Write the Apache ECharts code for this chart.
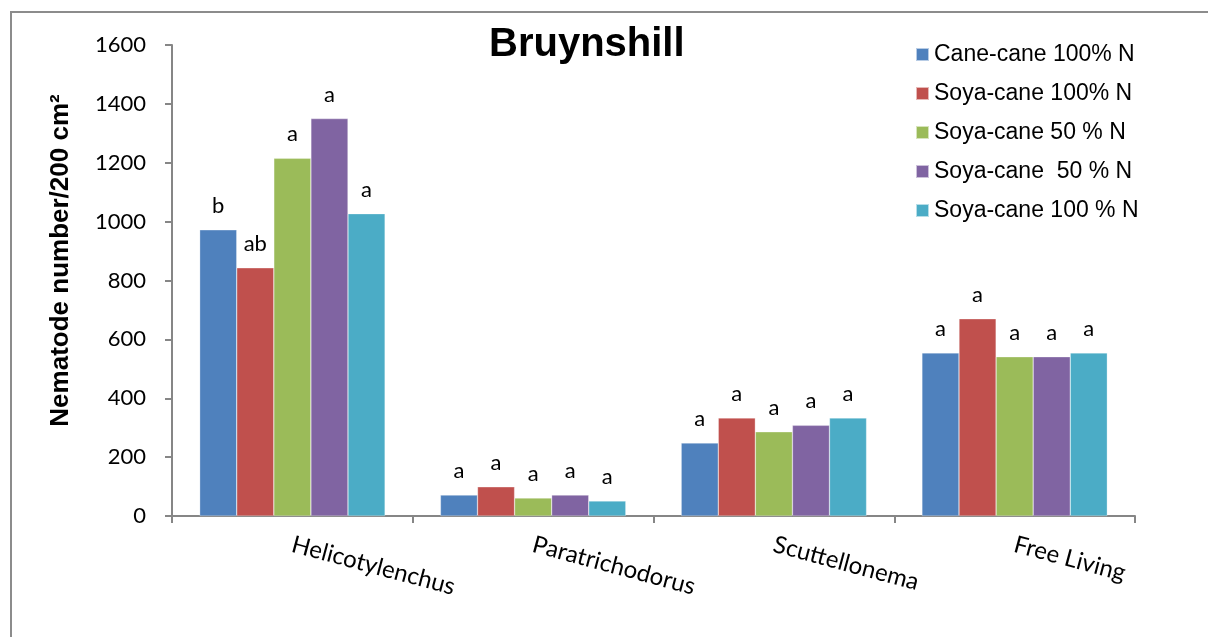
<!DOCTYPE html>
<html>
<head>
<meta charset="utf-8">
<script src="https://cdn.jsdelivr.net/npm/echarts@6/dist/echarts.min.js"></script>
<style>
  html, body { margin: 0; padding: 0; background: #fff; }
  #main { width: 1208px; height: 637px; }
</style>
</head>
<body>
<div id="main"></div>
<script>
// nematode counts per genus, Bruynshill site
var categories = ['Helicotylenchus', 'Paratrichodorus', 'Scuttellonema', 'Free Living'];
var seriesNames = ['Cane-cane 100% N', 'Soya-cane 100% N', 'Soya-cane 50 % N', 'Soya-cane  50 % N', 'Soya-cane 100 % N'];
var caneCane100 = [972, 71, 248, 554];
var soyaCane100 = [843, 99, 333, 670];
var soyaCane50 = [1215, 61, 286, 541];
var soyaCane50b = [1350, 71, 308, 541];
var soyaCane100b = [1027, 51, 333, 554];
// significance letters above the bars
var letters = [
  ['b', 'a', 'a', 'a'],
  ['ab', 'a', 'a', 'a'],
  ['a', 'a', 'a', 'a'],
  ['a', 'a', 'a', 'a'],
  ['a', 'a', 'a', 'a']
];
var colors = ['#4F81BD', '#C0504D', '#9BBB59', '#8064A2', '#4BACC6'];
var allValues = [caneCane100, soyaCane100, soyaCane50, soyaCane50b, soyaCane100b];

var chart = echarts.init(document.getElementById('main'));

var series = allValues.map(function (vals, i) {
  return {
    name: seriesNames[i],
    type: 'bar',
    data: vals,
    barGap: '0%',
    barCategoryGap: '23%',
    itemStyle: { color: colors[i], borderColor: 'rgba(255,255,255,0.6)', borderWidth: 0.5 },
    label: {
      show: true,
      position: 'top',
      distance: 13,
      fontFamily: 'Lato',
      fontSize: 22,
      color: '#000',
      formatter: function (p) { return letters[i][p.dataIndex]; }
    }
  };
});

var option = {
  backgroundColor: '#fff',
  color: colors,
  animation: false,
  title: {
    text: 'Bruynshill',
    left: 484,
    top: 20,
    textStyle: { fontFamily: 'Liberation Sans', fontWeight: 'bold', fontSize: 40, color: '#000' }
  },
  legend: {
    orient: 'vertical',
    left: 910,
    top: 38,
    itemWidth: 13,
    itemHeight: 13,
    itemGap: 16,
    icon: 'rect',
    data: seriesNames,
    textStyle: { fontFamily: 'Liberation Sans', fontSize: 23, color: '#000', lineHeight: 23 }
  },
  grid: { left: 172, right: 73, top: 45, bottom: 121 },
  xAxis: {
    type: 'category',
    data: categories,
    axisLine: { lineStyle: { color: '#868686', width: 2 } },
    axisTick: { show: true, length: 7, lineStyle: { color: '#868686', width: 2 } },
    axisLabel: {
      rotate: -15,
      margin: 28,
      fontFamily: 'Lato',
      fontSize: 24,
      color: '#000'
    }
  },
  yAxis: {
    type: 'value',
    min: 0,
    max: 1600,
    interval: 200,
    name: 'Nematode number/200 cm²',
    nameLocation: 'middle',
    nameGap: 98,
    nameTextStyle: { fontFamily: 'Liberation Sans', fontWeight: 'bold', fontSize: 26, color: '#000', padding: [0, 0, 0, 40] },
    splitLine: { show: false },
    axisLine: { show: true, lineStyle: { color: '#868686', width: 2 } },
    axisTick: { show: true, length: 7, lineStyle: { color: '#868686', width: 2 } },
    axisLabel: {
      margin: 26,
      fontFamily: 'Lato',
      fontSize: 22,
      color: '#000',
      formatter: function (v) { return String(v); }
    }
  },
  graphic: [{
    type: 'rect',
    shape: { x: 11, y: 12, width: 1400, height: 800 },
    style: { fill: 'none', stroke: '#8c8c8c', lineWidth: 2 },
    silent: true
  }],
  series: series
};

chart.setOption(option);
</script>
</body>
</html>
